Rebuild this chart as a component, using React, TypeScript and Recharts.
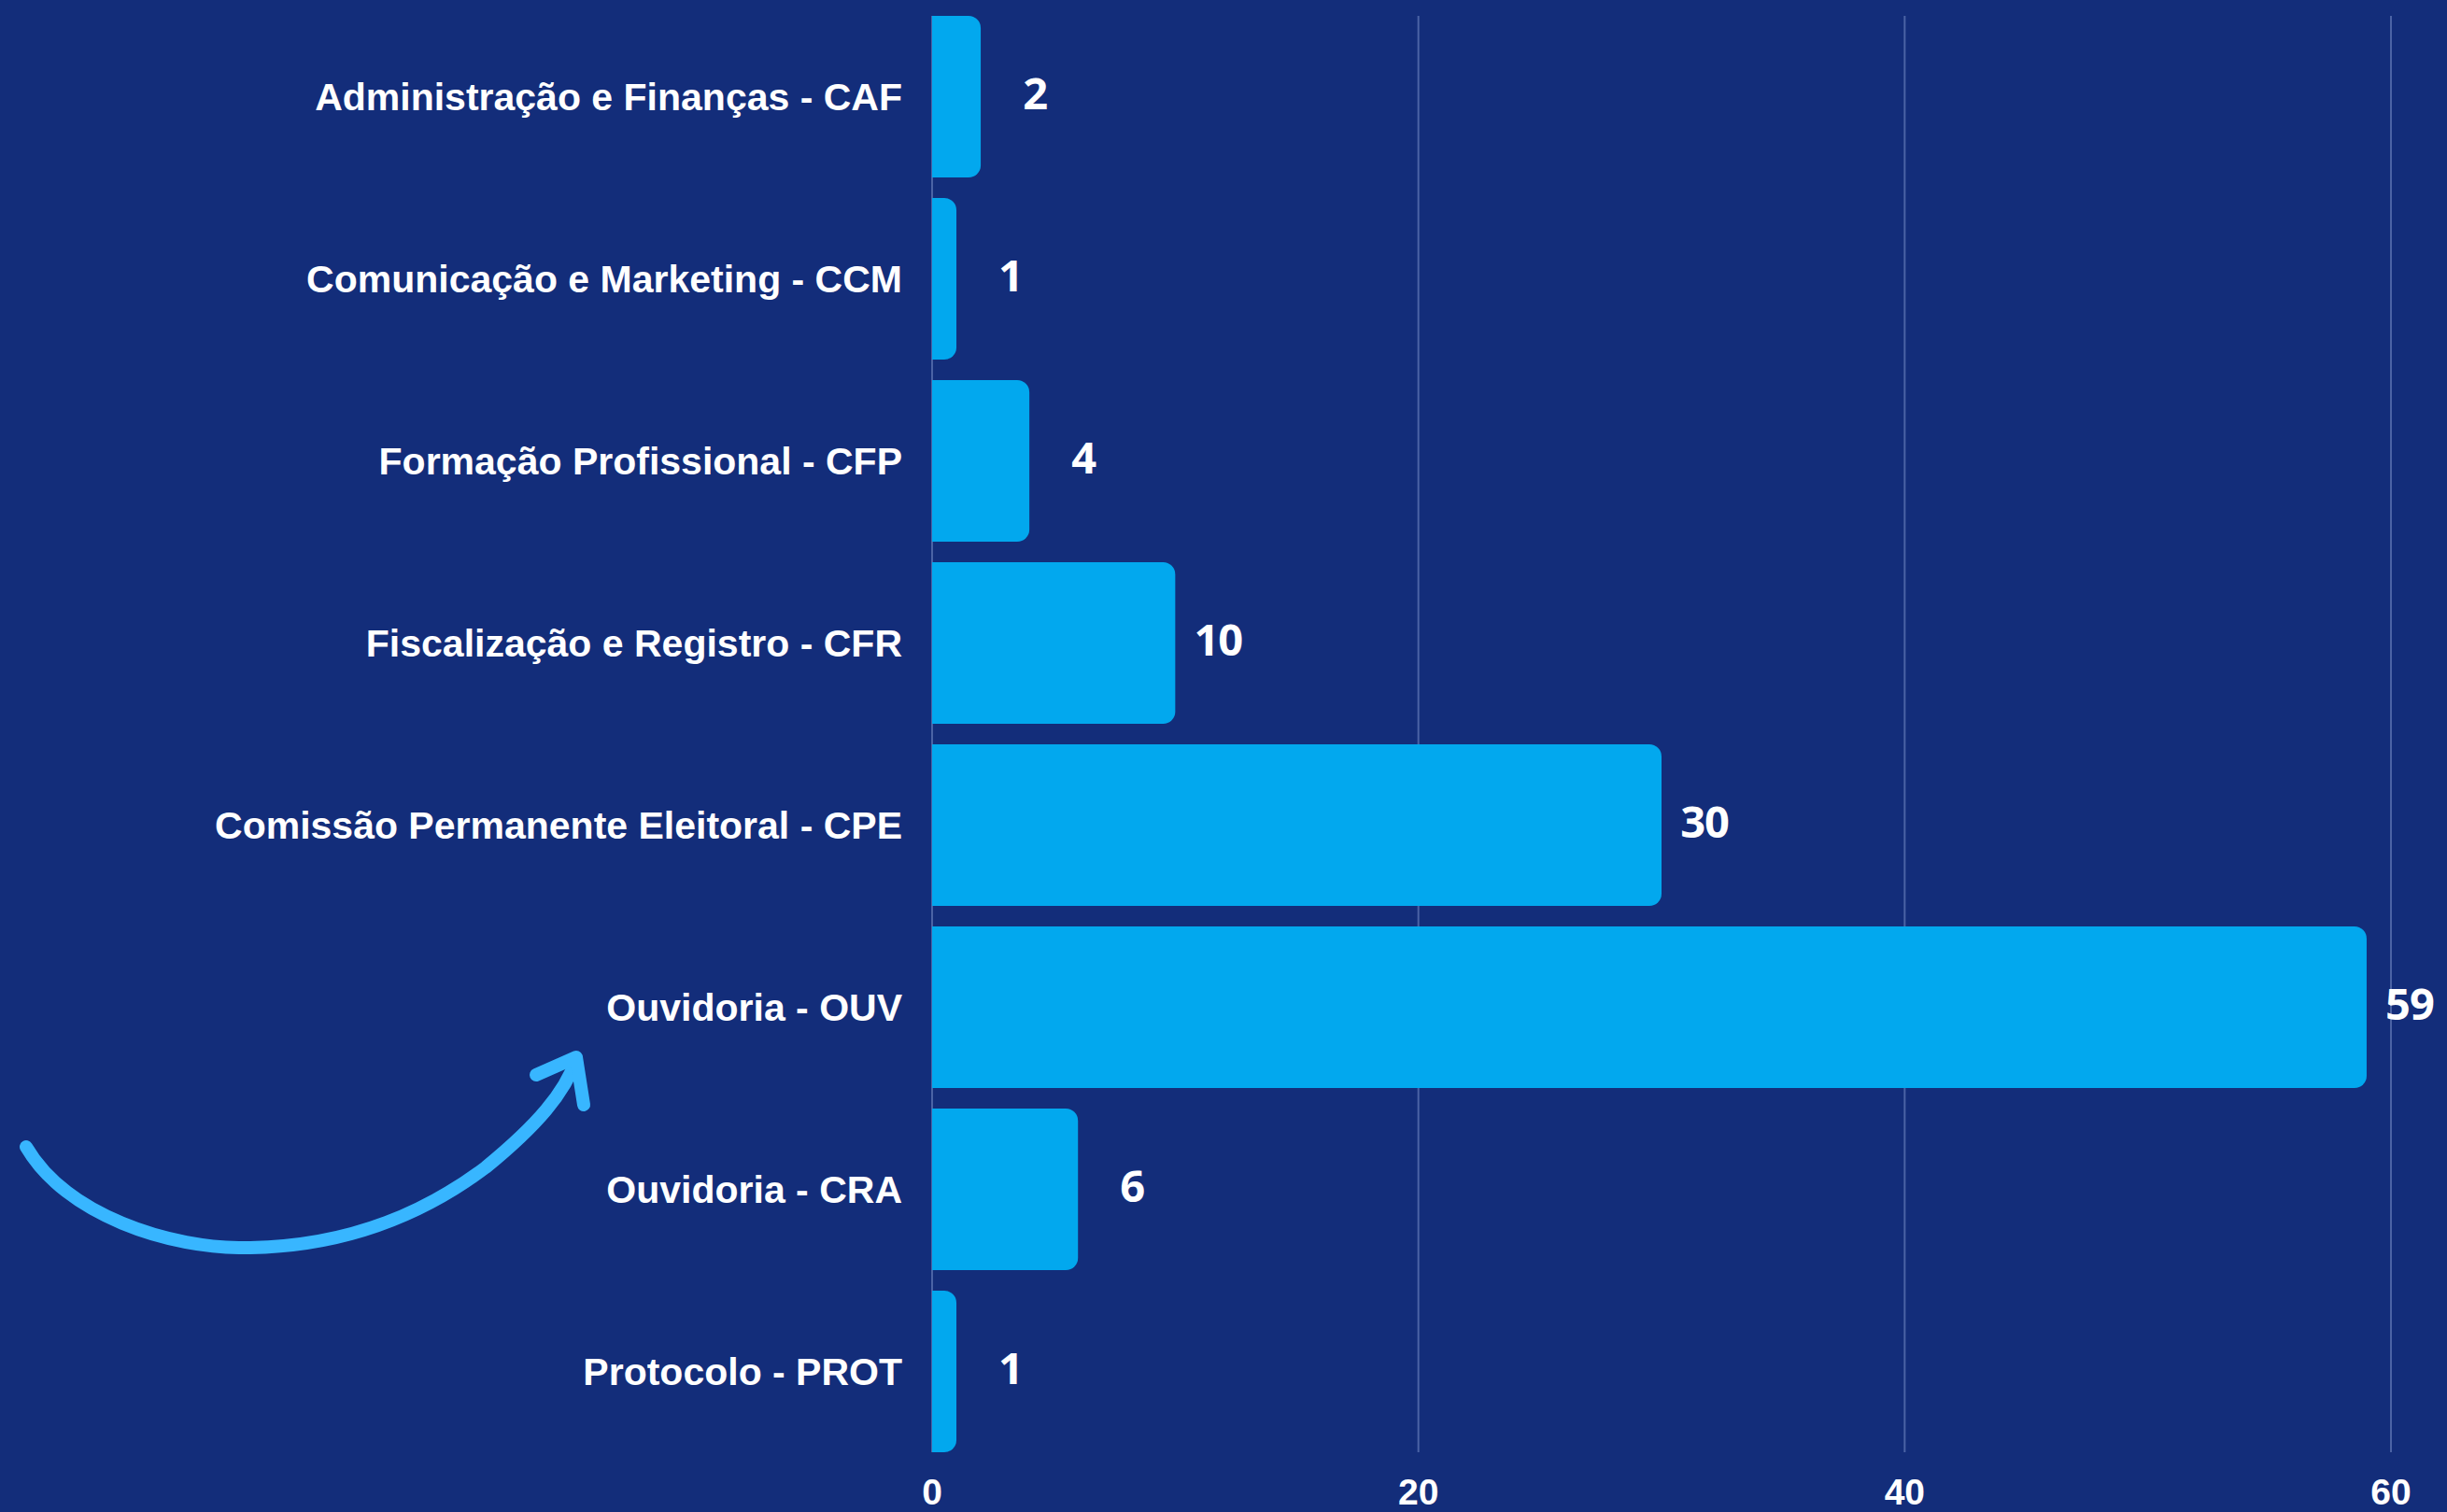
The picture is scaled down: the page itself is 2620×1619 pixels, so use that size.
import React from "react";
import { BarChart, Bar, XAxis, YAxis, CartesianGrid, LabelList } from "recharts";

const categories = [
  "Administração e Finanças - CAF",
  "Comunicação e Marketing - CCM",
  "Formação Profissional - CFP",
  "Fiscalização e Registro - CFR",
  "Comissão Permanente Eleitoral - CPE",
  "Ouvidoria - OUV",
  "Ouvidoria - CRA",
  "Protocolo - PROT",
];

const values = [2, 1, 4, 10, 30, 59, 6, 1];

const xTicks = [0, 20, 40, 60];

const data = categories.map((name, i) => ({ name, total: values[i] }));

const BG = "#132d7a";
const BAR = "#02a8ee";
const GRID = "#4b63a5";
const ARROW = "#38b6ff";

function ValueLabel(props: any) {
  const { x, y, width, height, value } = props;
  // single digits sit a bit further out than two-digit numbers
  const offset = String(value).length > 1 ? 46 : 58;
  return (
    <text
      x={x + width + offset}
      y={y + height / 2 - 5}
      textAnchor="middle"
      dominantBaseline="central"
      fill="#ffffff"
      fontFamily="'Open Sans', sans-serif"
      fontWeight={700}
      fontSize={47}
      letterSpacing={-1}
    >
      {value}
    </text>
  );
}

export default function App() {
  return (
    <div
      style={{
        position: "absolute",
        left: 0,
        top: 0,
        width: 2620,
        height: 1619,
        background: BG,
        overflow: "hidden",
      }}
    >
      <BarChart
        width={2620}
        height={1619}
        data={data}
        layout="vertical"
        margin={{ top: 6, right: 60, bottom: 0, left: 0 }}
      >
        <CartesianGrid
          horizontal={false}
          stroke={GRID}
          strokeWidth={2}
          y={17}
          height={1538}
        />
        <XAxis
          type="number"
          domain={[0, 60]}
          ticks={xTicks}
          axisLine={false}
          tickLine={false}
          tickSize={0}
          tickMargin={17}
          height={53}
          tick={{
            fill: "#ffffff",
            fontFamily: "'Liberation Sans', Arial, sans-serif",
            fontWeight: 700,
            fontSize: 39,
          }}
        />
        <YAxis
          type="category"
          dataKey="name"
          width={998}
          axisLine={false}
          tickLine={false}
          tickSize={0}
          tickMargin={32}
          interval={0}
          tick={{
            fill: "#ffffff",
            fontFamily: "'Liberation Sans', Arial, sans-serif",
            fontWeight: 700,
            fontSize: 41,
          }}
        />
        <Bar
          dataKey="total"
          fill={BAR}
          barSize={173}
          radius={[0, 13, 13, 0]}
          isAnimationActive={false}
        >
          <LabelList dataKey="total" content={<ValueLabel />} />
        </Bar>
      </BarChart>
      {/* hand-drawn arrow pointing at Ouvidoria */}
      <svg
        width={2620}
        height={1619}
        style={{ position: "absolute", left: 0, top: 0, pointerEvents: "none" }}
      >
        <g fill="none" stroke={ARROW} strokeWidth={14} strokeLinecap="round" strokeLinejoin="round">
          <path d="M 28 1228 C 70 1300, 180 1338, 268 1336 C 380 1334, 460 1295, 520 1250 C 575 1205, 605 1170, 617 1134" />
          <path d="M 574 1151 L 617 1132 L 625 1183" />
        </g>
      </svg>
    </div>
  );
}
